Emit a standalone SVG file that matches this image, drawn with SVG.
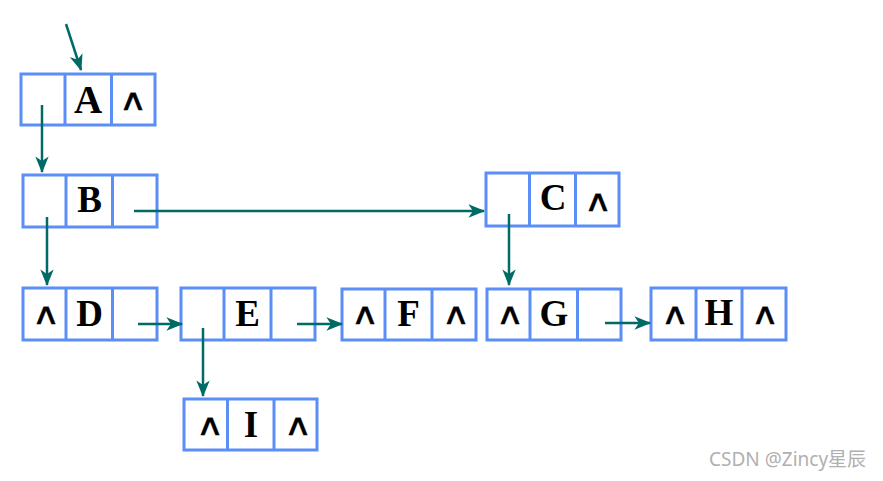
<svg xmlns="http://www.w3.org/2000/svg" width="883" height="481" viewBox="0 0 883 481">
<style>
.box{fill:#fff;stroke:#5b8ef7;stroke-width:3}
.div{stroke:#5b8ef7;stroke-width:3}
.lbl{font-family:"Liberation Serif","Times New Roman",serif;font-weight:bold;font-size:37px;fill:#000;text-anchor:middle}
.nil{font-family:"DejaVu Sans",sans-serif;font-size:30px;fill:#000;stroke:#000;stroke-width:0.3;text-anchor:middle}
.ln{stroke:#006a66;stroke-width:2.5;fill:none;marker-end:url(#ah)}
.wm{font-family:"Noto Sans","Noto Sans CJK SC",sans-serif;font-size:19px;fill:#b0b0b0}
</style>
<defs>
<marker id="ah" markerUnits="userSpaceOnUse" orient="auto" refX="0" refY="0" markerWidth="20" markerHeight="20" viewBox="-16 -8 18 16" overflow="visible">
<path d="M1,0 L-14,-6 L-10,0 L-14,6 z" fill="#006a66"/>
</marker>
</defs>
<rect width="883" height="481" fill="#fff"/>
<g id="A"><rect class="box" x="21" y="74" width="134" height="51"/><line class="div" x1="65" y1="74" x2="65" y2="125"/><line class="div" x1="111.5" y1="74" x2="111.5" y2="125"/><text class="lbl" x="88" y="112.5" style="font-size:39px">A</text><text class="nil" transform="translate(133,110) scale(1.3,1)">∧</text></g>
<g id="B"><rect class="box" x="23" y="175" width="134" height="52"/><line class="div" x1="66" y1="175" x2="66" y2="227"/><line class="div" x1="112.5" y1="175" x2="112.5" y2="227"/><text class="lbl" x="89.5" y="211.5">B</text></g>
<g id="C"><rect class="box" x="486" y="173" width="133" height="53"/><line class="div" x1="529.5" y1="173" x2="529.5" y2="226"/><line class="div" x1="575.5" y1="173" x2="575.5" y2="226"/><text class="lbl" x="553" y="210">C</text><text class="nil" transform="translate(598,211) scale(1.3,1)">∧</text></g>
<g id="D"><rect class="box" x="23" y="288" width="134" height="52"/><line class="div" x1="66" y1="288" x2="66" y2="340"/><line class="div" x1="112.5" y1="288" x2="112.5" y2="340"/><text class="lbl" x="89.5" y="325.5">D</text><text class="nil" transform="translate(46,323.5) scale(1.3,1)">∧</text></g>
<g id="E"><rect class="box" x="181" y="288" width="134" height="52"/><line class="div" x1="224" y1="288" x2="224" y2="340"/><line class="div" x1="271" y1="288" x2="271" y2="340"/><text class="lbl" x="247.5" y="325.5">E</text></g>
<g id="F"><rect class="box" x="342" y="289" width="134" height="51"/><line class="div" x1="385" y1="289" x2="385" y2="340"/><line class="div" x1="432" y1="289" x2="432" y2="340"/><text class="lbl" x="408.5" y="325.5">F</text><text class="nil" transform="translate(365,323.5) scale(1.3,1)">∧</text><text class="nil" transform="translate(456,323.5) scale(1.3,1)">∧</text></g>
<g id="G"><rect class="box" x="487" y="289" width="134" height="51"/><line class="div" x1="530" y1="289" x2="530" y2="340"/><line class="div" x1="577.5" y1="289" x2="577.5" y2="340"/><text class="lbl" x="554" y="325.5">G</text><text class="nil" transform="translate(510,323.5) scale(1.3,1)">∧</text></g>
<g id="H"><rect class="box" x="651" y="288" width="135" height="52"/><line class="div" x1="696" y1="288" x2="696" y2="340"/><line class="div" x1="742" y1="288" x2="742" y2="340"/><text class="lbl" x="719" y="325">H</text><text class="nil" transform="translate(675,323.5) scale(1.3,1)">∧</text><text class="nil" transform="translate(765,323.5) scale(1.3,1)">∧</text></g>
<g id="I"><rect class="box" x="184" y="399" width="133" height="51"/><line class="div" x1="227.5" y1="399" x2="227.5" y2="450"/><line class="div" x1="274" y1="399" x2="274" y2="450"/><text class="lbl" x="251" y="437">I</text><text class="nil" transform="translate(210,435) scale(1.3,1)">∧</text><text class="nil" transform="translate(298,435) scale(1.3,1)">∧</text></g>
<g id="connectors">
<path class="ln" d="M66,24 L81,70"/>
<path class="ln" d="M42,105 L42,172"/>
<path class="ln" d="M134,211 L484,211"/>
<path class="ln" d="M47,217 L47,285"/>
<path class="ln" d="M509,214 L509,285"/>
<path class="ln" d="M138,324 L182,324"/>
<path class="ln" d="M297,324 L342,324"/>
<path class="ln" d="M605,323 L650,323"/>
<path class="ln" d="M203,328 L203,396"/>
</g>
<text class="wm" x="709" y="466">CSDN @Zincy星辰</text>
</svg>
